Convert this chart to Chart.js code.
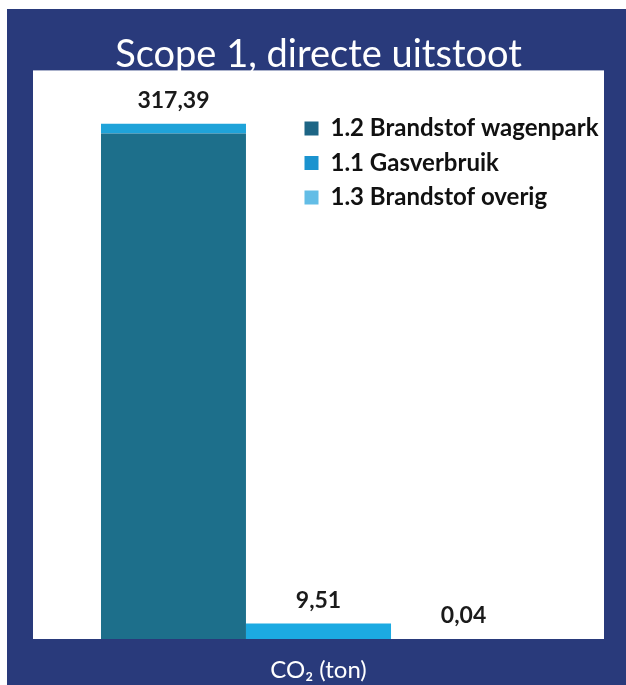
<!DOCTYPE html>
<html>
<head>
<meta charset="utf-8">
<title>Scope 1, directe uitstoot</title>
<script src="https://cdn.jsdelivr.net/npm/chart.js@4.4.1/dist/chart.umd.min.js"></script>
<style>
  html, body { margin: 0; padding: 0; background: #fff; }
  #wrap { width: 626px; height: 685px; position: relative; }
</style>
</head>
<body>
<div id="wrap"><canvas id="grafico"></canvas></div>
<script>
// data
const categorias = ["CO₂ (ton)"];
const series = ["1.2 Brandstof wagenpark", "1.1 Gasverbruik", "1.3 Brandstof overig"];
const wagenpark = [317.39];
const gasverbruik = [9.51];
const overig = [0.04];
const yMin = 0;
const yMax = 350;

const coresLegenda = ["#1d6585", "#1b93cf", "#63bde6"];

// navy frame + white plot area
const fundo = {
  id: "fundo",
  beforeDraw(chart) {
    const { ctx, chartArea: a } = chart;
    ctx.save();
    ctx.fillStyle = "#ffffff";
    ctx.fillRect(0, 0, chart.width, chart.height);
    ctx.fillStyle = "#293a7b";
    ctx.fillRect(7, 9, chart.width - 7, chart.height - 9);
    ctx.fillStyle = "#ffffff";
    ctx.fillRect(a.left, a.top, a.right - a.left, a.bottom - a.top);
    ctx.restore();
  },
};

// put the legend inside the plot, top right
const legendaDentro = {
  id: "legendaDentro",
  afterLayout(chart) {
    const l = chart.legend;
    l.left = 294;
    l.top = 106;
    l.right = l.left + l.width;
    l.bottom = l.top + l.height;
  },
};

// value labels above the bars
const rotulos = {
  id: "rotulos",
  afterDatasetsDraw(chart) {
    const { ctx } = chart;
    ctx.save();
    ctx.font = "bold 23px Lato";
    ctx.fillStyle = "#1a1a1a";
    ctx.textAlign = "center";
    ctx.textBaseline = "middle";
    chart.data.datasets.forEach((ds, i) => {
      chart.getDatasetMeta(i).data.forEach((bar, j) => {
        const txt = ds.data[j].toFixed(2).replace(".", ",");
        ctx.fillText(txt, bar.x, bar.y - 23);
      });
    });
    ctx.restore();
  },
};

new Chart(document.getElementById("grafico"), {
  type: "bar",
  data: {
    labels: categorias,
    datasets: [
      {
        label: series[0],
        data: wagenpark,
        backgroundColor: "#1d6f8b",
        borderColor: "#1fa3d9",
        borderWidth: { top: 10, left: 0, right: 0, bottom: 0 },
      },
      {
        label: series[1],
        data: gasverbruik,
        backgroundColor: "#1caae2",
      },
      {
        label: series[2],
        data: overig,
        backgroundColor: "#5cbbe6",
      },
    ],
  },
  options: {
    responsive: true,
    maintainAspectRatio: false,
    animation: false,
    categoryPercentage: 0.762,
    barPercentage: 1,
    layout: {
      padding: { left: 33, right: 22, top: 0, bottom: 0 },
    },
    plugins: {
      title: {
        display: true,
        text: "Scope 1, directe uitstoot",
        color: "#ffffff",
        font: { family: "Lato", size: 38, weight: "normal", lineHeight: 0.8 },
        padding: { top: 40, bottom: 0 },
      },
      legend: {
        position: "chartArea",
        align: "start",
        labels: {
          color: "#111111",
          font: { family: "Lato", size: 24, weight: "bold" },
          boxWidth: 14,
          boxHeight: 14,
          padding: 10.5,
          generateLabels(chart) {
            const itens = Chart.defaults.plugins.legend.labels.generateLabels(chart);
            itens.forEach((item, i) => {
              item.fillStyle = coresLegenda[i];
              item.strokeStyle = coresLegenda[i];
              item.lineWidth = 0;
            });
            return itens;
          },
        },
      },
      tooltip: { enabled: false },
    },
    scales: {
      x: {
        grid: { display: false, drawTicks: false },
        border: { display: false },
        ticks: {
          color: "#ffffff",
          font: { family: "Lato", size: 24 },
          padding: 17,
        },
        afterFit(scale) {
          scale.height = 46;
        },
      },
      y: {
        display: false,
        min: yMin,
        max: yMax,
      },
    },
  },
  plugins: [fundo, legendaDentro, rotulos],
});
</script>
</body>
</html>
